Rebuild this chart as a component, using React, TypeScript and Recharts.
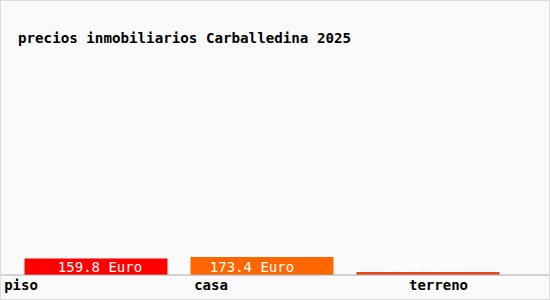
import React from "react";
import { BarChart, Bar, XAxis, YAxis, Cell, LabelList } from "recharts";

const categories = ["piso", "casa", "terreno"];
const prices = [159.8, 173.4, 28.9];
const valueLabels = ["159.8 Euro", "173.4 Euro", "28.9 Euro"];
const barColors = ["#ff0000", "#ff6600", "#e8461c"];
const tickOffsets = [-74.5, -50.5, 11];
const labelOffsets = [4, -10, -5];

const data = categories.map((c, i) => ({ name: c, value: prices[i], label: valueLabels[i] }));

const FONT = "'DejaVu Sans Mono', monospace";

const CategoryTick = (props: any) => {
  const { x, y, payload, index } = props;
  return (
    <text x={x + tickOffsets[index]} y={y} dy={15} textAnchor="middle" fill="#000" fontFamily={FONT} fontSize={14} fontWeight="bold">
      {payload.value}
    </text>
  );
};

const ValueLabel = (props: any) => {
  const { x, y, width, height, index } = props;
  const bottom = y + height;
  return (
    <text
      x={x + width / 2 + labelOffsets[index]}
      y={bottom - 3.5}
      textAnchor="middle"
      fill="#ffffff"
      fontFamily={FONT}
      fontSize={14}
    >
      {valueLabels[index]}
    </text>
  );
};

export default function App() {
  return (
    <div
      style={{
        position: "absolute",
        left: 0,
        top: 0,
        width: 550,
        height: 300,
        boxSizing: "border-box",
        border: "1px solid #dddddd",
        background: "#fafafa",
        overflow: "hidden",
      }}
    >
      <div
        style={{
          position: "absolute",
          left: 17,
          top: 28,
          fontFamily: FONT,
          fontSize: 14.2,
          fontWeight: "bold",
          color: "#000",
          whiteSpace: "pre",
          lineHeight: "18px",
        }}
      >
        precios inmobiliarios Carballedina 2025
      </div>
      <div style={{ position: "absolute", left: -1, top: -1 }}>
        <BarChart width={550} height={300} data={data} margin={{ top: 0, right: 0, bottom: 0, left: 0 }}>
          <YAxis hide domain={[0, 2650]} />
          <XAxis
            dataKey="name"
            height={25}
            padding={{ left: 12.5, right: 39.5 }}
            axisLine={{ stroke: "#aaaaaa" }}
            tickLine={false}
            tickSize={0}
            tickMargin={0}
            tick={<CategoryTick />}
            interval={0}
          />
          <Bar dataKey="value" barSize={143} isAnimationActive={false}>
            {data.map((d, i) => (
              <Cell key={d.name} fill={barColors[i]} />
            ))}
            <LabelList dataKey="label" content={<ValueLabel />} />
          </Bar>
        </BarChart>
      </div>
    </div>
  );
}
